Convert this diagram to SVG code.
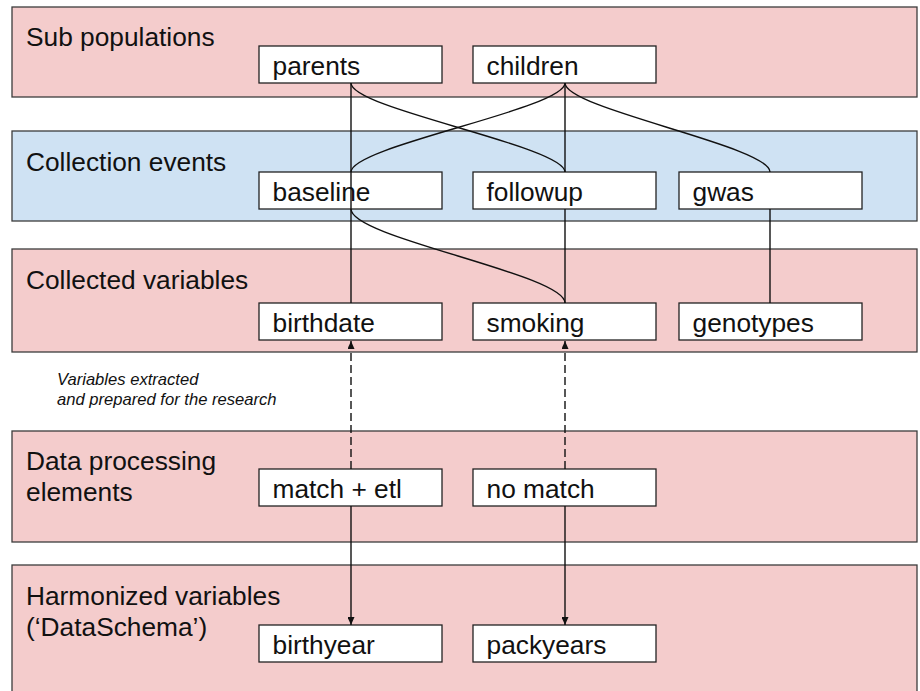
<svg xmlns="http://www.w3.org/2000/svg" width="920" height="691" viewBox="0 0 920 691">
<defs>
<style>
.band-pink{fill:#f4cccc;stroke:#3c3c3c;stroke-width:1.3}
.band-blue{fill:#cfe2f3;stroke:#3c3c3c;stroke-width:1.3}
.node rect{fill:#ffffff;stroke:#222;stroke-width:1.3}
.lbl{font-family:"Liberation Sans",Arial,sans-serif;font-size:26.3px;fill:#111}
.note{font-family:"Liberation Sans",Arial,sans-serif;font-size:16.6px;font-style:italic;fill:#111}
.conn{fill:none;stroke:#111;stroke-width:1.4}
.dash{stroke-dasharray:8,4}
</style>
<marker id="arr" markerWidth="8" markerHeight="7" refX="8" refY="3.5" orient="auto" markerUnits="userSpaceOnUse">
<path d="M0,0 L8,3.5 L0,7 z" fill="#111"/>
</marker>
</defs>
<g id="bands">
<g id="band-sub"><rect class="band-pink" x="12" y="7" width="905" height="90"/><text class="lbl" x="26" y="46">Sub populations</text></g>
<g id="band-events"><rect class="band-blue" x="12" y="131" width="905" height="90"/><text class="lbl" x="26" y="171">Collection events</text></g>
<g id="band-collected"><rect class="band-pink" x="12" y="249" width="905" height="103"/><text class="lbl" x="26" y="289">Collected variables</text></g>
<g id="band-processing"><rect class="band-pink" x="12" y="431" width="905" height="111"/><text class="lbl" x="26" y="470">Data processing</text><text class="lbl" x="26" y="501">elements</text></g>
<g id="band-harmonized"><rect class="band-pink" x="12" y="565" width="905" height="140"/><text class="lbl" x="26" y="605">Harmonized variables</text><text class="lbl" x="26" y="636">(‘DataSchema’)</text></g>
</g>
<text class="note" x="57" y="385">Variables extracted</text>
<text class="note" x="57" y="405">and prepared for the research</text>
<g id="n-parents" class="node"><rect x="259" y="46" width="183" height="37"/><text class="lbl" x="272.5" y="75">parents</text></g>
<g id="n-children" class="node"><rect x="473" y="46" width="183" height="37"/><text class="lbl" x="486.5" y="75">children</text></g>
<g id="n-baseline" class="node"><rect x="259" y="172" width="183" height="37"/><text class="lbl" x="272.5" y="201">baseline</text></g>
<g id="n-followup" class="node"><rect x="473" y="172" width="183" height="37"/><text class="lbl" x="486.5" y="201">followup</text></g>
<g id="n-gwas" class="node"><rect x="679" y="172" width="183" height="37"/><text class="lbl" x="692.5" y="201">gwas</text></g>
<g id="n-birthdate" class="node"><rect x="259" y="303" width="183" height="37"/><text class="lbl" x="272.5" y="332">birthdate</text></g>
<g id="n-smoking" class="node"><rect x="473" y="303" width="183" height="37"/><text class="lbl" x="486.5" y="332">smoking</text></g>
<g id="n-genotypes" class="node"><rect x="679" y="303" width="183" height="37"/><text class="lbl" x="692.5" y="332">genotypes</text></g>
<g id="n-matchetl" class="node"><rect x="259" y="469" width="183" height="37"/><text class="lbl" x="272.5" y="498">match + etl</text></g>
<g id="n-nomatch" class="node"><rect x="473" y="469" width="183" height="37"/><text class="lbl" x="486.5" y="498">no match</text></g>
<g id="n-birthyear" class="node"><rect x="259" y="625" width="183" height="37"/><text class="lbl" x="272.5" y="654">birthyear</text></g>
<g id="n-packyears" class="node"><rect x="473" y="625" width="183" height="37"/><text class="lbl" x="486.5" y="654">packyears</text></g>
<g id="connectors">
<path class="conn" d="M351,83 L351,303"/>
<path class="conn" d="M351,83 C351,109 565,146 565,172"/>
<path class="conn" d="M565,83 C565,109 351,146 351,172"/>
<path class="conn" d="M565,83 L565,172"/>
<path class="conn" d="M565,83 C565,109 770,146 770,172"/>
<path class="conn" d="M351,209 C351,238 565,274 565,303"/>
<path class="conn" d="M565,209 L565,303"/>
<path class="conn" d="M770,209 L770,303"/>
<path class="conn dash" d="M351,469 L351,341" marker-end="url(#arr)"/>
<path class="conn dash" d="M565,469 L565,341" marker-end="url(#arr)"/>
<path class="conn" d="M351,506 L351,625" marker-end="url(#arr)"/>
<path class="conn" d="M565,506 L565,625" marker-end="url(#arr)"/>
</g>
</svg>
